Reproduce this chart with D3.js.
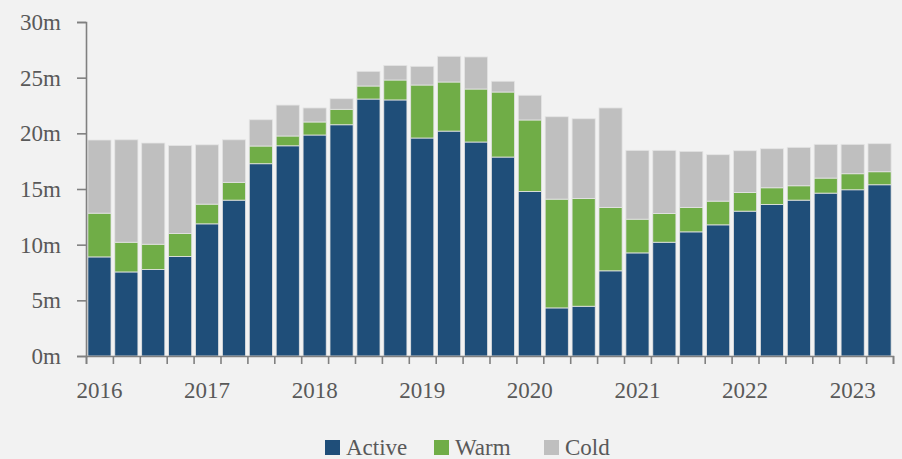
<!DOCTYPE html>
<html>
<head>
<meta charset="utf-8">
<script src="https://cdn.jsdelivr.net/npm/d3@7"></script>
<style>
  html, body { margin: 0; padding: 0; background: #f2f2f2; }
  #chart { width: 902px; height: 459px; }
  text { font-family: "Liberation Serif", "DejaVu Serif", serif; }
</style>
</head>
<body>
<div id="chart"></div>
<script>
// Quarterly periods, 2016 Q1 .. 2023 Q2
const years = ["2016", "2017", "2018", "2019", "2020", "2021", "2022", "2023"];
const periods = [];
years.forEach((y) => [1, 2, 3, 4].forEach((q) => periods.push(`${y} Q${q}`)));
periods.splice(30);

// values in millions
const active = [8.9, 7.55, 7.77, 8.94, 11.87, 14.0, 17.27, 18.88, 19.85, 20.77,
  23.08, 23.0, 19.58, 20.2, 19.22, 17.87, 14.78, 4.32, 4.47, 7.65,
  9.26, 10.22, 11.15, 11.78, 13.01, 13.61, 14.0, 14.63, 14.93, 15.38];
const warm = [3.93, 2.67, 2.27, 2.06, 1.77, 1.6, 1.59, 0.88, 1.17, 1.39,
  1.17, 1.79, 4.76, 4.41, 4.76, 5.84, 6.42, 9.77, 9.68, 5.7,
  3.03, 2.58, 2.2, 2.13, 1.68, 1.5, 1.29, 1.35, 1.44, 1.17];
const cold = [6.57, 9.2, 9.09, 7.9, 5.33, 3.82, 2.36, 2.78, 1.26, 0.95,
  1.32, 1.31, 1.68, 2.31, 2.88, 0.97, 2.22, 7.4, 7.16, 8.93,
  6.18, 5.67, 5.03, 4.17, 3.75, 3.51, 3.45, 3.03, 2.64, 2.52];

const seriesNames = ["Active", "Warm", "Cold"];
const colors = ["#1f4e79", "#70ad47", "#bfbfbf"];
const yTicks = [0, 5, 10, 15, 20, 25, 30];

const width = 902;
const height = 459;
const margin = { top: 22, right: 9, bottom: 103, left: 86 };
const fontSize = "23px";

const svg = d3.select("#chart").append("svg")
  .attr("width", width)
  .attr("height", height);

svg.append("rect").attr("width", width).attr("height", height).attr("fill", "#f2f2f2");

const rows = periods.map((p, i) => ({ period: p, Active: active[i], Warm: warm[i], Cold: cold[i] }));
const stacked = d3.stack().keys(seriesNames)(rows);

const x = d3.scaleBand()
  .domain(periods)
  .range([margin.left, width - margin.right])
  .paddingInner(0.14)
  .paddingOuter(0.07);

const y = d3.scaleLinear()
  .domain([0, 30])
  .range([height - margin.bottom, margin.top]);

// ── Bars ──
svg.append("g")
  .selectAll("g")
  .data(stacked)
  .join("g")
  .attr("fill", (d, i) => colors[i])
  .selectAll("rect")
  .data((d) => d)
  .join("rect")
  .attr("x", (d) => x(d.data.period))
  .attr("width", x.bandwidth())
  .attr("y", (d) => y(d[1]))
  .attr("height", (d) => y(d[0]) - y(d[1]))
  .attr("stroke", "#e4e4e4")
  .attr("stroke-width", 0.8);

// ── Y axis ──
const yAxis = svg.append("g")
  .attr("transform", `translate(${margin.left},0)`)
  .call(d3.axisLeft(y).tickValues(yTicks).tickSize(9).tickPadding(16).tickFormat((d) => `${d}m`));

yAxis.selectAll("text")
  .attr("fill", "#595959")
  .attr("font-size", fontSize)
  .style("font-family", "'Liberation Serif', serif");

// ── X axis (ticks at quarter boundaries) ──
const xEdges = d3.scaleLinear().domain([0, periods.length]).range([margin.left, width - margin.right]);
svg.append("g")
  .attr("transform", `translate(0,${y(0)})`)
  .call(d3.axisBottom(xEdges).tickValues(d3.range(periods.length + 1)).tickSize(8).tickFormat(""));

svg.selectAll(".domain").attr("stroke", "#808080").attr("stroke-width", 1.6);
svg.selectAll(".tick line").attr("stroke", "#808080").attr("stroke-width", 1.6);

// Year labels under Q1 bars
svg.append("g")
  .selectAll("text")
  .data(years)
  .join("text")
  .attr("x", (d) => x(`${d} Q1`) + x.bandwidth() / 2)
  .attr("y", y(0) + 42)
  .attr("text-anchor", "middle")
  .attr("fill", "#595959")
  .attr("font-size", fontSize)
  .text((d) => d);

// ── Legend ──
const legendX = [325, 434, 544];
const legend = svg.append("g").attr("transform", `translate(0, 440)`);
seriesNames.forEach((name, i) => {
  legend.append("rect")
    .attr("x", legendX[i])
    .attr("y", 0)
    .attr("width", 15)
    .attr("height", 15)
    .attr("fill", colors[i]);
  legend.append("text")
    .attr("x", legendX[i] + 21)
    .attr("y", 15)
    .attr("fill", "#595959")
    .attr("font-size", fontSize)
    .text(name);
});
</script>
</body>
</html>
